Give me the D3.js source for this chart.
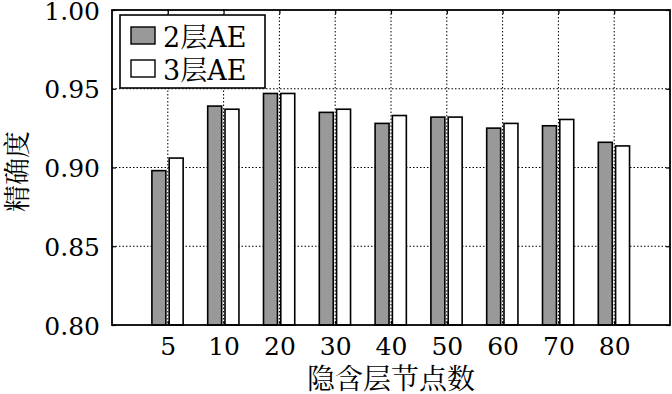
<!DOCTYPE html>
<html>
<head>
<meta charset="utf-8">
<script src="https://cdn.jsdelivr.net/npm/d3@7"></script>
<style>
  body { margin: 0; background: #fff; }
  svg { display: block; }
</style>
</head>
<body>
<svg id="chart" width="672" height="394"></svg>
<script>
"use strict";

// hidden layer node counts
var categories = ["5", "10", "20", "30", "40", "50", "60", "70", "80"]
// accuracy for 2-layer and 3-layer AE
var ae2 = [0.898, 0.939, 0.947, 0.935, 0.928, 0.932, 0.925, 0.9265, 0.916]
var ae3 = [0.906, 0.937, 0.947, 0.937, 0.933, 0.932, 0.928, 0.9305, 0.9137]
var yTicks = [0.80, 0.85, 0.90, 0.95, 1.00]
var seriesNames = ["2层AE", "3层AE"]
var seriesFill = ["#999999", "#ffffff"]

var LATIN = "DejaVu Serif"
var CJK = "Noto Serif CJK SC"

var svg = d3.select("#chart")
var margin = { left: 112, top: 10, right: 2, bottom: 69 }
var width = 672 - margin.left - margin.right
var height = 394 - margin.top - margin.bottom

var g = svg.append("g")
  .attr("transform", "translate(" + margin.left + "," + margin.top + ")")

// x is linear: categories sit at 1..9 on a 0..10 range
var x = d3.scaleLinear().domain([0, categories.length + 1]).range([0, width])
var y = d3.scaleLinear().domain([0.80, 1.00]).range([height, 0])

// grid
var grid = g.append("g").attr("class", "grid")
grid.selectAll("line.h")
  .data(yTicks.slice(1, -1))
  .enter().append("line")
    .attr("x1", 0).attr("x2", width)
    .attr("y1", function(d) { return y(d) })
    .attr("y2", function(d) { return y(d) })
    .style("stroke", "#000").style("stroke-width", 1)
    .style("stroke-dasharray", "1.5,2")
grid.selectAll("line.v")
  .data(categories)
  .enter().append("line")
    .attr("y1", 0).attr("y2", height)
    .attr("x1", function(d, i) { return x(i + 1) })
    .attr("x2", function(d, i) { return x(i + 1) })
    .style("stroke", "#000").style("stroke-width", 1)
    .style("stroke-dasharray", "1.5,2")

// bars
var series = [ae2, ae3]
var offsets = [[-0.285, -0.035], [0.025, 0.275]]
series.forEach(function(values, s) {
  g.append("g").selectAll("rect")
    .data(values)
    .enter().append("rect")
      .attr("x", function(d, i) { return x(i + 1 + offsets[s][0]) })
      .attr("width", function(d, i) { return x(i + 1 + offsets[s][1]) - x(i + 1 + offsets[s][0]) })
      .attr("y", function(d) { return y(d) })
      .attr("height", function(d) { return height - y(d) })
      .style("fill", seriesFill[s])
      .style("stroke", "#000")
      .style("stroke-width", 1.6)
})

// axes (ticks pointing inward)
var xAxis = d3.axisBottom(x)
  .tickValues(d3.range(1, categories.length + 1))
  .tickFormat(function(d) { return categories[d - 1] })
  .tickSizeInner(-4).tickSizeOuter(0).tickPadding(12)
var yAxis = d3.axisLeft(y)
  .tickValues(yTicks).tickFormat(d3.format(".2f"))
  .tickSizeInner(-4).tickSizeOuter(0).tickPadding(12)

var gx = g.append("g").attr("transform", "translate(0," + height + ")").call(xAxis)
var gy = g.append("g").call(yAxis)
g.append("g").attr("transform", "translate(" + width + ",0)")
  .call(d3.axisRight(y).tickValues(yTicks).tickSizeInner(-4).tickSizeOuter(0).tickFormat(""))
g.append("g")
  .call(d3.axisTop(x).tickValues(d3.range(1, categories.length + 1)).tickSizeInner(-4).tickSizeOuter(0).tickFormat(""))

g.selectAll(".domain").remove()
g.selectAll(".tick line").style("stroke", "#000").style("stroke-width", 1.2)
gx.attr("font-family", LATIN).attr("font-size", 25)
gy.attr("font-family", LATIN).attr("font-size", 25)
gx.selectAll("text").attr("font-family", LATIN).attr("dy", "0.72em")
gy.selectAll("text").attr("font-family", LATIN).attr("dy", "0.36em")

// frame
g.append("rect")
  .attr("width", width).attr("height", height)
  .style("fill", "none").style("stroke", "#000").style("stroke-width", 1.8)

// axis titles
svg.append("text")
  .attr("x", margin.left + width / 2).attr("y", 389)
  .attr("text-anchor", "middle")
  .attr("font-family", CJK).attr("font-size", 28)
  .text("隐含层节点数")
svg.append("text")
  .attr("transform", "translate(27," + (margin.top + height / 2 + 4) + ") rotate(-90)")
  .attr("text-anchor", "middle")
  .attr("font-family", CJK).attr("font-size", 27)
  .text("精确度")

// legend: digit and "AE" in the Latin serif, 层 in the CJK serif
var legend = svg.append("g").attr("transform", "translate(120,15)")
legend.append("rect")
  .attr("width", 145).attr("height", 73)
  .style("fill", "#fff").style("stroke", "#000").style("stroke-width", 1.6)
var items = legend.selectAll("g.item")
  .data(seriesNames)
  .enter().append("g")
    .attr("class", "item")
    .attr("transform", function(d, i) { return "translate(0," + (i * 33) + ")" })
items.append("rect")
  .attr("x", 11).attr("y", 12).attr("width", 24).attr("height", 17)
  .style("fill", function(d, i) { return seriesFill[i] })
  .style("stroke", "#000").style("stroke-width", 1.4)
var label = items.append("text")
  .attr("x", 43).attr("y", 32)
  .attr("font-size", 27)
label.append("tspan").attr("font-family", LATIN).text(function(d) { return d.slice(0, 1) })
label.append("tspan").attr("font-family", CJK).text(function(d) { return d.slice(1, 2) })
label.append("tspan").attr("font-family", LATIN).text(function(d) { return d.slice(2) })
</script>
</body>
</html>
